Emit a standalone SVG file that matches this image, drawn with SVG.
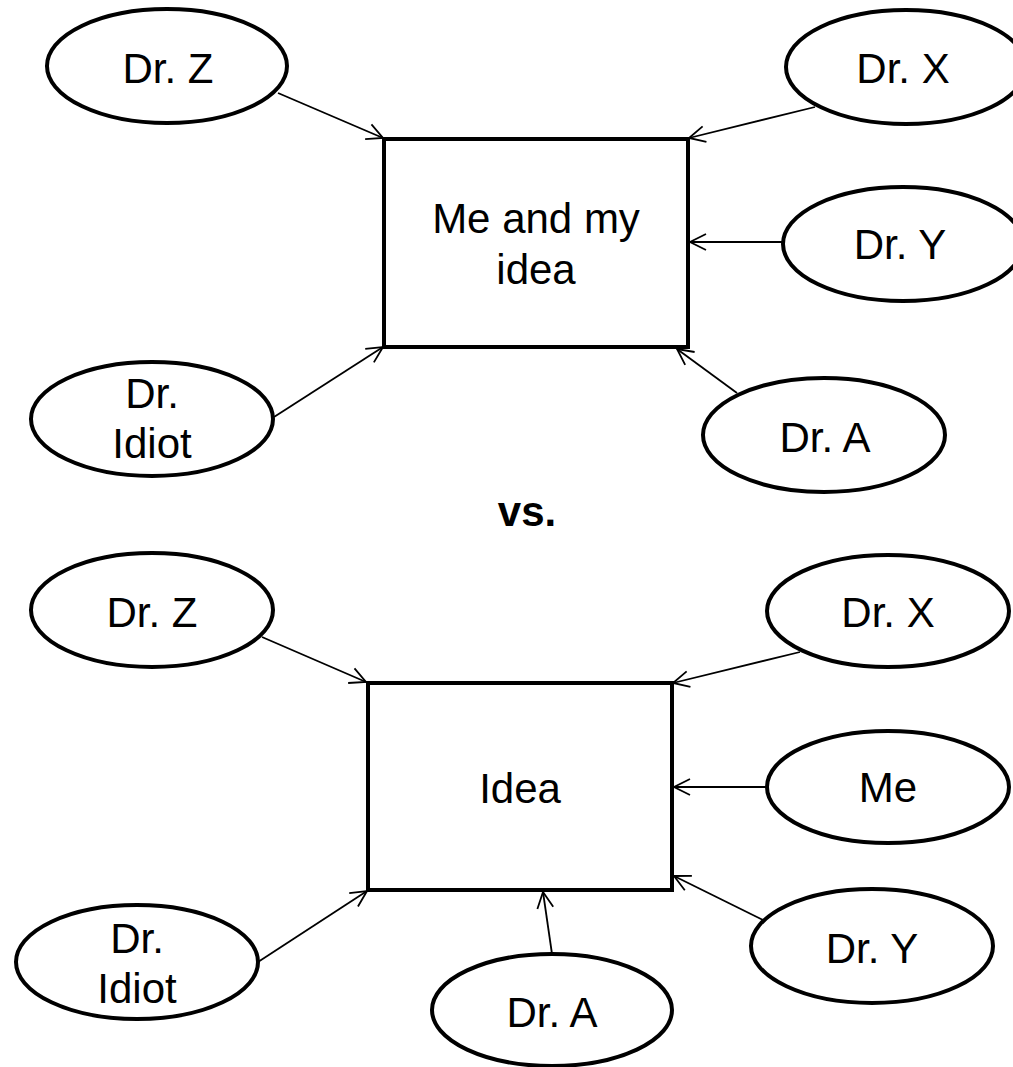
<svg xmlns="http://www.w3.org/2000/svg" width="1013" height="1067" viewBox="0 0 1013 1067">
<style>
.node ellipse, .node rect { fill: #fff; stroke: #000; stroke-width: 4; }
.node text, .label { font-family: "Liberation Sans", Arial, sans-serif; font-size: 42px; fill: #000; text-anchor: middle; }
.label { font-weight: bold; }
#connectors line { stroke: #000; stroke-width: 1.8; marker-end: url(#arrow); }
</style>
<defs>
<marker id="arrow" markerUnits="userSpaceOnUse" markerWidth="20" markerHeight="20" viewBox="0 0 20 20" refX="18" refY="10" orient="auto">
<path d="M2,2 L18,10 L2,18" fill="none" stroke="#000" stroke-width="1.8"/>
</marker>
</defs>
<rect width="1013" height="1067" fill="#fff"/>

<g id="connectors">
<line x1="278" y1="93" x2="383" y2="138"/>
<line x1="815" y1="107" x2="689" y2="138"/>
<line x1="783" y1="242" x2="690" y2="242"/>
<line x1="274" y1="417" x2="383" y2="347"/>
<line x1="737" y1="393" x2="677" y2="349"/>
<line x1="262" y1="637" x2="366" y2="682"/>
<line x1="800" y1="652" x2="673" y2="683"/>
<line x1="767" y1="787" x2="674" y2="787"/>
<line x1="258" y1="962" x2="367" y2="891"/>
<line x1="552" y1="954" x2="543" y2="892"/>
<line x1="763" y1="920" x2="674" y2="876"/>
</g>

<g id="top-box" class="node">
<rect x="384" y="139" width="304" height="208"/>
<text x="536" y="233">Me and my</text>
<text x="536" y="284">idea</text>
</g>
<g id="top-drz" class="node">
<ellipse cx="167" cy="66" rx="120" ry="57"/>
<text x="168" y="83">Dr. Z</text>
</g>
<g id="top-drx" class="node">
<ellipse cx="906" cy="67" rx="120" ry="57"/>
<text x="903" y="83">Dr. X</text>
</g>
<g id="top-dry" class="node">
<ellipse cx="903" cy="244" rx="120" ry="57"/>
<text x="900" y="259">Dr. Y</text>
</g>
<g id="top-dridiot" class="node">
<ellipse cx="152" cy="419" rx="121" ry="57"/>
<text x="152" y="408">Dr.</text>
<text x="152" y="458">Idiot</text>
</g>
<g id="top-dra" class="node">
<ellipse cx="824" cy="435" rx="121" ry="57"/>
<text x="825" y="452">Dr. A</text>
</g>

<text class="label" x="527" y="526">vs.</text>

<g id="bottom-box" class="node">
<rect x="368" y="683" width="304" height="207"/>
<text x="520" y="803">Idea</text>
</g>
<g id="bottom-drz" class="node">
<ellipse cx="152" cy="610" rx="121" ry="57"/>
<text x="152" y="627">Dr. Z</text>
</g>
<g id="bottom-drx" class="node">
<ellipse cx="888" cy="611" rx="121" ry="56"/>
<text x="888" y="627">Dr. X</text>
</g>
<g id="bottom-me" class="node">
<ellipse cx="888" cy="787" rx="121" ry="56"/>
<text x="888" y="802">Me</text>
</g>
<g id="bottom-dridiot" class="node">
<ellipse cx="137" cy="962" rx="121" ry="57"/>
<text x="137" y="953">Dr.</text>
<text x="137" y="1003">Idiot</text>
</g>
<g id="bottom-dra" class="node">
<ellipse cx="552" cy="1010" rx="120" ry="56"/>
<text x="552" y="1027">Dr. A</text>
</g>
<g id="bottom-dry" class="node">
<ellipse cx="872" cy="946" rx="121" ry="57"/>
<text x="872" y="963">Dr. Y</text>
</g>
</svg>
